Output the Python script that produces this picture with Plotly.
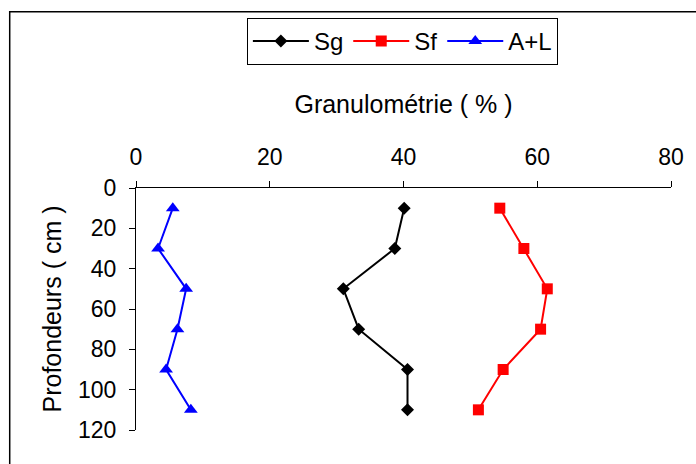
import plotly.graph_objects as go

depths = [10, 30, 50, 70, 90, 110]
sg = [40.1, 38.7, 31.0, 33.3, 40.6, 40.6]
sf = [54.4, 58.0, 61.5, 60.5, 54.9, 51.2]
al = [5.5, 3.3, 7.5, 6.2, 4.5, 8.2]
x_ticks = [0, 20, 40, 60, 80]
y_ticks = [0, 20, 40, 60, 80, 100, 120]

W, H = 696, 464
L, R, T, B = 135.5, 22.5, 187.5, 34
pw, ph = W - L - R, H - T - B

def px(x):
    return (x - L) / pw

def py(y):
    return (H - B - y) / ph

FONT = "Liberation Sans, Arial, sans-serif"

fig = go.Figure()
fig.add_trace(go.Scatter(x=sg, y=depths, name="Sg", mode="lines+markers",
                         line=dict(color="black", width=2),
                         marker=dict(symbol="diamond", size=10, color="black")))
fig.add_trace(go.Scatter(x=sf, y=depths, name="Sf", mode="lines+markers",
                         line=dict(color="#ff0000", width=2),
                         marker=dict(symbol="square", size=11, color="#ff0000")))
fig.add_trace(go.Scatter(x=al, y=depths, name="A+L", mode="lines+markers",
                         line=dict(color="#0000ff", width=2),
                         marker=dict(symbol="triangle-up", size=12, color="#0000ff")))

fig.update_layout(
    width=W, height=H,
    margin=dict(l=L, r=R, t=T, b=B, pad=0),
    paper_bgcolor="white", plot_bgcolor="white",
    font=dict(family=FONT, size=23, color="black"),
    showlegend=True,
    legend=dict(orientation="h", x=px(247), y=py(17), xanchor="left", yanchor="top",
                bordercolor="black", borderwidth=1, bgcolor="white",
                font=dict(size=24), itemwidth=56, tracegroupgap=0),
    xaxis=dict(side="top", range=[0, 80], tickvals=x_ticks, showgrid=False,
               zeroline=False, showline=True, linecolor="black", linewidth=1,
               ticks="outside", ticklen=6, tickcolor="black",
               ticklabelstandoff=7,
               title=dict(text="Granulométrie ( % )", font=dict(size=25), standoff=23)),
    yaxis=dict(range=[120, 0], tickvals=y_ticks, showgrid=False, zeroline=False,
               showline=True, linecolor="black", linewidth=1,
               ticks="outside", ticklen=6, tickcolor="black",
               ticklabelstandoff=8,
               title=dict(text="Profondeurs ( cm )", font=dict(size=25), standoff=9)),
    shapes=[dict(type="rect", xref="paper", yref="paper",
                 x0=px(8.5), x1=px(702), y0=py(470), y1=py(11),
                 line=dict(color="black", width=1.5), fillcolor="rgba(0,0,0,0)",
                 layer="below")],
)

fig.write_html("out.html")
